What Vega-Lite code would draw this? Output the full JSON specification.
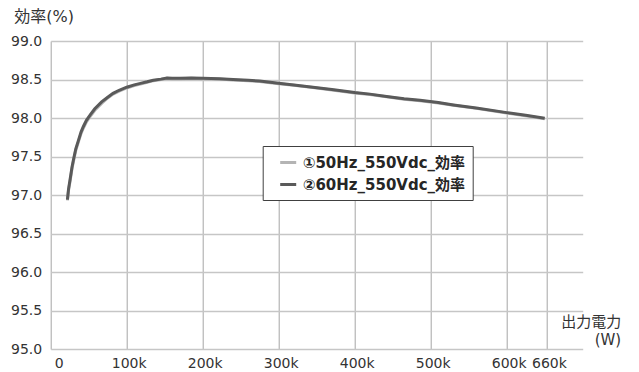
{
  "$schema": "https://vega.github.io/schema/vega-lite/v6.json",
  "autosize": "none",
  "width": 532,
  "height": 308,
  "padding": {"left": 50.7, "top": 41, "right": 56.3, "bottom": 23},
  "background": "white",
  "config": {
    "view": {"stroke": null},
    "font": "DejaVu Sans, Noto Sans CJK JP",
    "axis": {"labelFont": "DejaVu Sans, Noto Sans CJK JP", "titleFont": "DejaVu Sans, Noto Sans CJK JP", "labelColor": "#333333", "titleColor": "#333333"}
  },
  "datasets": {
    "curves": [
      {"series": "①50Hz_550Vdc_効率", "power": 22000, "eff": 96.93},
      {"series": "①50Hz_550Vdc_効率", "power": 23500, "eff": 97.06},
      {"series": "①50Hz_550Vdc_効率", "power": 25500, "eff": 97.18},
      {"series": "①50Hz_550Vdc_効率", "power": 28000, "eff": 97.34},
      {"series": "①50Hz_550Vdc_効率", "power": 30000, "eff": 97.44},
      {"series": "①50Hz_550Vdc_効率", "power": 33000, "eff": 97.58},
      {"series": "①50Hz_550Vdc_効率", "power": 36500, "eff": 97.69},
      {"series": "①50Hz_550Vdc_効率", "power": 40000, "eff": 97.80},
      {"series": "①50Hz_550Vdc_効率", "power": 43000, "eff": 97.87},
      {"series": "①50Hz_550Vdc_効率", "power": 47000, "eff": 97.95},
      {"series": "①50Hz_550Vdc_効率", "power": 52000, "eff": 98.02},
      {"series": "①50Hz_550Vdc_効率", "power": 58000, "eff": 98.10},
      {"series": "①50Hz_550Vdc_効率", "power": 67000, "eff": 98.19},
      {"series": "①50Hz_550Vdc_効率", "power": 75000, "eff": 98.26},
      {"series": "①50Hz_550Vdc_効率", "power": 82000, "eff": 98.31},
      {"series": "①50Hz_550Vdc_効率", "power": 90000, "eff": 98.35},
      {"series": "①50Hz_550Vdc_効率", "power": 100000, "eff": 98.39},
      {"series": "①50Hz_550Vdc_効率", "power": 110000, "eff": 98.42},
      {"series": "①50Hz_550Vdc_効率", "power": 118000, "eff": 98.44},
      {"series": "①50Hz_550Vdc_効率", "power": 127000, "eff": 98.465},
      {"series": "①50Hz_550Vdc_効率", "power": 135000, "eff": 98.485},
      {"series": "①50Hz_550Vdc_効率", "power": 145000, "eff": 98.5},
      {"series": "①50Hz_550Vdc_効率", "power": 153000, "eff": 98.515},
      {"series": "①50Hz_550Vdc_効率", "power": 160000, "eff": 98.51},
      {"series": "①50Hz_550Vdc_効率", "power": 170000, "eff": 98.51},
      {"series": "①50Hz_550Vdc_効率", "power": 185000, "eff": 98.515},
      {"series": "①50Hz_550Vdc_効率", "power": 200000, "eff": 98.51},
      {"series": "①50Hz_550Vdc_効率", "power": 222000, "eff": 98.505},
      {"series": "①50Hz_550Vdc_効率", "power": 240000, "eff": 98.495},
      {"series": "①50Hz_550Vdc_効率", "power": 260000, "eff": 98.485},
      {"series": "①50Hz_550Vdc_効率", "power": 275000, "eff": 98.475},
      {"series": "①50Hz_550Vdc_効率", "power": 300000, "eff": 98.445},
      {"series": "①50Hz_550Vdc_効率", "power": 320000, "eff": 98.425},
      {"series": "①50Hz_550Vdc_効率", "power": 345000, "eff": 98.395},
      {"series": "①50Hz_550Vdc_効率", "power": 370000, "eff": 98.365},
      {"series": "①50Hz_550Vdc_効率", "power": 400000, "eff": 98.325},
      {"series": "①50Hz_550Vdc_効率", "power": 420000, "eff": 98.305},
      {"series": "①50Hz_550Vdc_効率", "power": 442000, "eff": 98.275},
      {"series": "①50Hz_550Vdc_効率", "power": 465000, "eff": 98.245},
      {"series": "①50Hz_550Vdc_効率", "power": 486000, "eff": 98.225},
      {"series": "①50Hz_550Vdc_効率", "power": 510000, "eff": 98.195},
      {"series": "①50Hz_550Vdc_効率", "power": 530000, "eff": 98.165},
      {"series": "①50Hz_550Vdc_効率", "power": 560000, "eff": 98.125},
      {"series": "①50Hz_550Vdc_効率", "power": 600000, "eff": 98.065},
      {"series": "①50Hz_550Vdc_効率", "power": 625000, "eff": 98.03},
      {"series": "①50Hz_550Vdc_効率", "power": 650000, "eff": 97.99},
      {"series": "②60Hz_550Vdc_効率", "power": 22000, "eff": 96.94},
      {"series": "②60Hz_550Vdc_効率", "power": 23500, "eff": 97.08},
      {"series": "②60Hz_550Vdc_効率", "power": 25500, "eff": 97.20},
      {"series": "②60Hz_550Vdc_効率", "power": 28000, "eff": 97.36},
      {"series": "②60Hz_550Vdc_効率", "power": 30000, "eff": 97.46},
      {"series": "②60Hz_550Vdc_効率", "power": 33000, "eff": 97.60},
      {"series": "②60Hz_550Vdc_効率", "power": 36500, "eff": 97.71},
      {"series": "②60Hz_550Vdc_効率", "power": 40000, "eff": 97.82},
      {"series": "②60Hz_550Vdc_効率", "power": 43000, "eff": 97.89},
      {"series": "②60Hz_550Vdc_効率", "power": 47000, "eff": 97.97},
      {"series": "②60Hz_550Vdc_効率", "power": 52000, "eff": 98.04},
      {"series": "②60Hz_550Vdc_効率", "power": 58000, "eff": 98.12},
      {"series": "②60Hz_550Vdc_効率", "power": 67000, "eff": 98.21},
      {"series": "②60Hz_550Vdc_効率", "power": 75000, "eff": 98.27},
      {"series": "②60Hz_550Vdc_効率", "power": 82000, "eff": 98.32},
      {"series": "②60Hz_550Vdc_効率", "power": 90000, "eff": 98.36},
      {"series": "②60Hz_550Vdc_効率", "power": 100000, "eff": 98.40},
      {"series": "②60Hz_550Vdc_効率", "power": 110000, "eff": 98.43},
      {"series": "②60Hz_550Vdc_効率", "power": 118000, "eff": 98.45},
      {"series": "②60Hz_550Vdc_効率", "power": 127000, "eff": 98.47},
      {"series": "②60Hz_550Vdc_効率", "power": 135000, "eff": 98.49},
      {"series": "②60Hz_550Vdc_効率", "power": 145000, "eff": 98.505},
      {"series": "②60Hz_550Vdc_効率", "power": 153000, "eff": 98.52},
      {"series": "②60Hz_550Vdc_効率", "power": 160000, "eff": 98.515},
      {"series": "②60Hz_550Vdc_効率", "power": 170000, "eff": 98.515},
      {"series": "②60Hz_550Vdc_効率", "power": 185000, "eff": 98.52},
      {"series": "②60Hz_550Vdc_効率", "power": 200000, "eff": 98.515},
      {"series": "②60Hz_550Vdc_効率", "power": 222000, "eff": 98.51},
      {"series": "②60Hz_550Vdc_効率", "power": 240000, "eff": 98.50},
      {"series": "②60Hz_550Vdc_効率", "power": 260000, "eff": 98.49},
      {"series": "②60Hz_550Vdc_効率", "power": 275000, "eff": 98.48},
      {"series": "②60Hz_550Vdc_効率", "power": 300000, "eff": 98.45},
      {"series": "②60Hz_550Vdc_効率", "power": 320000, "eff": 98.43},
      {"series": "②60Hz_550Vdc_効率", "power": 345000, "eff": 98.40},
      {"series": "②60Hz_550Vdc_効率", "power": 370000, "eff": 98.37},
      {"series": "②60Hz_550Vdc_効率", "power": 400000, "eff": 98.33},
      {"series": "②60Hz_550Vdc_効率", "power": 420000, "eff": 98.31},
      {"series": "②60Hz_550Vdc_効率", "power": 442000, "eff": 98.28},
      {"series": "②60Hz_550Vdc_効率", "power": 465000, "eff": 98.25},
      {"series": "②60Hz_550Vdc_効率", "power": 486000, "eff": 98.23},
      {"series": "②60Hz_550Vdc_効率", "power": 510000, "eff": 98.20},
      {"series": "②60Hz_550Vdc_効率", "power": 530000, "eff": 98.17},
      {"series": "②60Hz_550Vdc_効率", "power": 560000, "eff": 98.13},
      {"series": "②60Hz_550Vdc_効率", "power": 600000, "eff": 98.07},
      {"series": "②60Hz_550Vdc_効率", "power": 625000, "eff": 98.035},
      {"series": "②60Hz_550Vdc_効率", "power": 650000, "eff": 97.996}
    ]
  },
  "layer": [
    {
      "data": {"name": "curves"},
      "mark": {"type": "line", "strokeWidth": 3},
      "encoding": {
        "x": {"field": "power", "type": "quantitative", "scale": {"domain": [0, 700000], "nice": false},
          "axis": {
            "values": [0, 100000, 200000, 300000, 400000, 500000, 600000, 653000],
            "tickCount": 20,
            "labelExpr": "datum.value == 653000 ? '660k' : (datum.value == 0 ? '0' : (datum.value / 1000) + 'k')",
            "domain": false, "ticks": false, "tickSize": 0,
            "grid": true, "gridColor": "#a6a6a6", "gridWidth": 1,
            "labelFontSize": 14, "labelPadding": 7, "labelOverlap": false, "labelFlush": false,
            "labelOffset": {"condition": {"test": "datum.value == 0", "value": 8}, "value": 2},
            "title": ["出力電力", "(W)"], "titleFontSize": 15, "titleFontWeight": "normal",
            "titleAlign": "right", "titleAnchor": null, "titleBaseline": "top", "titleLineHeight": 18,
            "titleX": 570, "titleY": -35
          }
        },
        "y": {"field": "eff", "type": "quantitative", "scale": {"domain": [95, 99], "nice": false, "zero": false},
          "axis": {
            "values": [95, 95.5, 96, 96.5, 97, 97.5, 98, 98.5, 99],
            "tickCount": 20,
            "format": ".1f", "labelOverlap": false,
            "domain": false, "ticks": false, "tickSize": 0,
            "grid": true, "gridColor": "#c6c6c6", "gridWidth": 1.5,
            "labelFontSize": 14, "labelPadding": 9,
            "title": "効率(%)", "titleAngle": 0, "titleFontSize": 16, "titleFontWeight": "normal",
            "titleAlign": "left", "titleAnchor": null, "titleBaseline": "middle",
            "titleX": -37, "titleY": -25
          }
        },
        "color": {
          "field": "series", "type": "nominal",
          "scale": {"domain": ["①50Hz_550Vdc_効率", "②60Hz_550Vdc_効率"], "range": ["#b4b4b4", "#5a5a5a"]},
          "legend": {
            "orient": "none", "legendX": 212, "legendY": 105, "title": null,
            "direction": "vertical",
            "strokeColor": "#404040", "fillColor": "white", "padding": 7,
            "symbolType": "stroke", "symbolSize": 256, "symbolStrokeWidth": 3, "symbolOffset": 9,
            "labelFont": "DejaVu Sans, Noto Sans CJK JP", "labelFontSize": 15, "labelFontWeight": "bold",
            "labelColor": "#262626", "labelLimit": 400, "labelOffset": 5, "rowPadding": 4
          }
        }
      }
    },
    {
      "mark": {"type": "rule", "stroke": "#595959", "strokeWidth": 1.5},
      "encoding": {
        "x": {"datum": 653000, "type": "quantitative"},
        "y": {"datum": 95, "type": "quantitative"},
        "y2": {"datum": 99}
      }
    },
    {
      "mark": {"type": "rule", "stroke": "#1a1a1a", "strokeWidth": 2},
      "encoding": {
        "x": {"datum": 0, "type": "quantitative"},
        "y": {"datum": 95, "type": "quantitative"},
        "y2": {"datum": 99.115}
      }
    },
    {
      "mark": {"type": "rule", "stroke": "#1a1a1a", "strokeWidth": 2},
      "encoding": {
        "x": {"datum": 0, "type": "quantitative"},
        "x2": {"datum": 672000},
        "y": {"datum": 95, "type": "quantitative"}
      }
    },
    {
      "mark": {"type": "point", "shape": "M-1,1L0,0L1,1", "filled": false, "stroke": "#1a1a1a", "strokeWidth": 2, "size": 100, "opacity": 1},
      "encoding": {
        "x": {"datum": 0, "type": "quantitative"},
        "y": {"datum": 99.12, "type": "quantitative"}
      }
    },
    {
      "mark": {"type": "point", "shape": "M-1,-1L0,0L-1,1", "filled": false, "stroke": "#1a1a1a", "strokeWidth": 2, "size": 100, "opacity": 1},
      "encoding": {
        "x": {"datum": 673000, "type": "quantitative"},
        "y": {"datum": 95, "type": "quantitative"}
      }
    }
  ]
}
